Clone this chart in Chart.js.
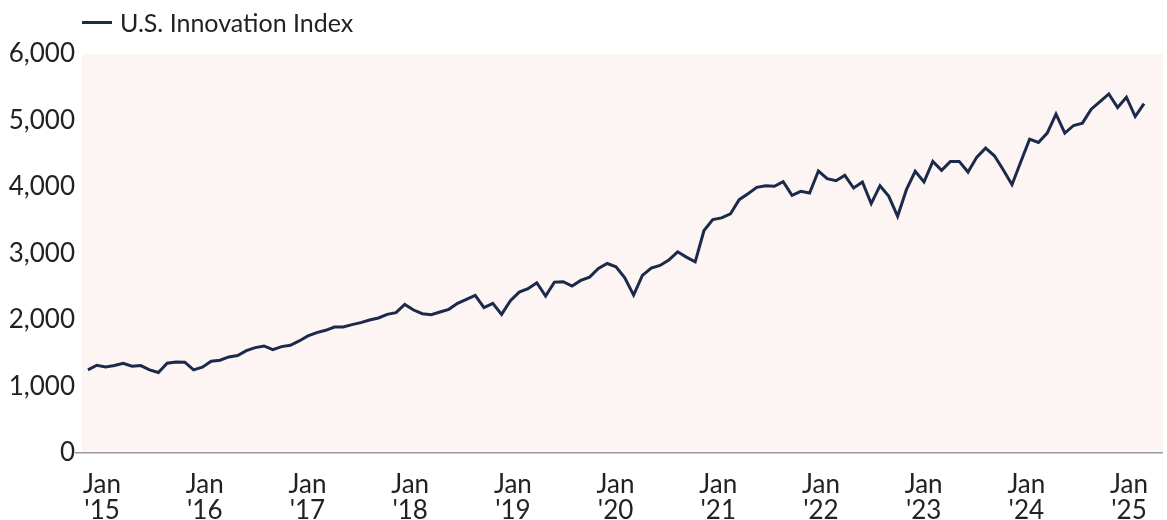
<!DOCTYPE html>
<html>
<head>
<meta charset="utf-8">
<script src="https://cdn.jsdelivr.net/npm/chart.js@4"></script>
<style>
body { margin: 0; background: #fff; font-family: Lato, sans-serif; }
#wrap { position: relative; width: 1167px; height: 520px; }
#legend { position: absolute; left: 82px; top: 7px; font-size: 25px; color: #222; display: flex; align-items: center; }
#legend .swatch { display: inline-block; width: 30px; height: 3px; background: #1b2a4a; margin-right: 8px; }
</style>
</head>
<body>
<div id="wrap">
    <div id="legend"><span class="swatch"></span>U.S. Innovation Index</div>
    <canvas id="chartIndex" width="1167" height="520"></canvas>
</div>
<script>
var seriesName = 'U.S. Innovation Index';

// monthly values, Jan 2015 .. Jan 2025
var indexValues = [
    1250, 1320, 1295, 1315, 1350, 1305, 1315, 1250, 1210, 1350, 1370, 1365,
    1250, 1290, 1380, 1395, 1445, 1465, 1540, 1585, 1610, 1555, 1600, 1620,
    1685, 1760, 1810, 1845, 1895, 1895, 1930, 1960, 2000, 2030, 2085, 2110,
    2235, 2150, 2095, 2080, 2120, 2160, 2250, 2310, 2370, 2185, 2250, 2085,
    2290, 2420, 2470, 2560, 2360, 2570, 2575, 2510, 2595, 2645, 2775, 2850,
    2800, 2635, 2375, 2670, 2780, 2820, 2900, 3025, 2945, 2875, 3345, 3510,
    3535, 3595, 3810, 3900, 3995, 4020, 4010, 4080, 3875, 3935, 3910, 4240,
    4125, 4095, 4175, 3985, 4075, 3750, 4020, 3860, 3560, 3960, 4235, 4075,
    4385, 4250, 4385, 4385, 4225, 4450, 4585, 4470, 4260, 4035, 4380, 4720,
    4670, 4810, 5095, 4810, 4925, 4960, 5170, 5285, 5400, 5195, 5350, 5060,
    5255
];

var yearLabels = ["'15", "'16", "'17", "'18", "'19", "'20", "'21", "'22", "'23", "'24", "'25"];
var yTicks = [0, 1000, 2000, 3000, 4000, 5000, 6000];

var points = [];
for (var i = 0; i < indexValues.length; i++) {
    points.push({ x: i, y: indexValues[i] });
}

var plotBackground = {
    id: 'plotBackground',
    beforeDraw: function(chart) {
        var a = chart.chartArea;
        var ctx = chart.ctx;
        ctx.save();
        ctx.fillStyle = '#fdf5f3';
        ctx.fillRect(a.left, a.top, a.right - a.left, a.bottom - a.top);
        ctx.restore();
    }
};

var ctx = document.getElementById('chartIndex').getContext('2d');
var chart = new Chart(ctx, {
    type: 'line',
    data: {
        datasets: [{
            label: seriesName,
            data: points,
            borderColor: '#1b2a4a',
            borderWidth: 3,
            pointRadius: 0,
            tension: 0,
            fill: false
        }]
    },
    options: {
        responsive: false,
        animation: false,
        layout: { padding: { top: 54, right: 0, bottom: 0, left: 0 } },
        plugins: {
            legend: { display: false },
            tooltip: { enabled: false }
        },
        scales: {
            x: {
                type: 'linear',
                min: -0.68,
                max: 122.15,
                grid: { display: false, drawTicks: false },
                border: { display: false },
                afterBuildTicks: function(scale) {
                    scale.ticks = yearLabels.map(function(l, k) {
                        return { value: 1.6 + 11.67 * k };
                    });
                },
                afterFit: function(scale) { scale.height = 67; },
                ticks: {
                    autoSkip: false,
                    maxRotation: 0,
                    padding: 19,
                    color: '#222',
                    font: { family: 'Lato, sans-serif', size: 26, lineHeight: 1.0 },
                    callback: function(value, idx) {
                        return ['Jan', yearLabels[idx]];
                    }
                }
            },
            y: {
                min: 0,
                max: 6000,
                afterBuildTicks: function(scale) {
                    scale.ticks = yTicks.map(function(v) { return { value: v }; });
                },
                afterFit: function(scale) { scale.width = 82; },
                border: { display: false },
                grid: {
                    drawTicks: true,
                    tickLength: 7,
                    lineWidth: 1.5,
                    color: function(c) {
                        return c.tick && c.tick.value === 0 ? '#9a9a9a' : 'rgba(0,0,0,0)';
                    }
                },
                ticks: {
                    padding: 0,
                    color: '#222',
                    font: { family: 'Lato, sans-serif', size: 26 },
                    callback: function(v) { return v.toLocaleString('en-US'); }
                }
            }
        }
    },
    plugins: [plotBackground]
});
</script>
</body>
</html>
